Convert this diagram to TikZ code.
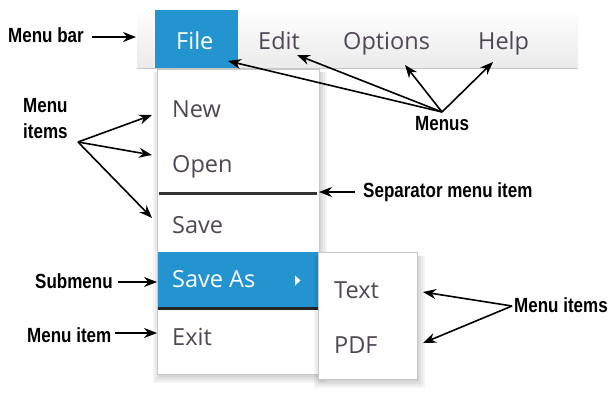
\documentclass[tikz,border=0pt]{standalone}
\usepackage{fontspec}
\newfontfamily\uifont{Open Sans}
\newfontfamily\labfont[FakeStretch=0.83]{Liberation Sans}
\usetikzlibrary{arrows.meta}
\definecolor{mblue}{RGB}{35,148,208}
\definecolor{mtext}{RGB}{80,70,86}
\definecolor{mborder}{RGB}{200,200,200}
\begin{document}
\begin{tikzpicture}[x=1pt,y=-1pt,
  ui/.style={font=\uifont\fontsize{23.5}{28}\selectfont, text=mtext, inner sep=0pt, anchor=base west},
  lab/.style={font=\labfont\bfseries\fontsize{20.5}{26}\selectfont, inner sep=0pt, anchor=base west, align=left},
  arr/.style={-{Stealth[length=13pt,width=10pt]}, line width=1.6pt},
  shad/.style={fill=black, opacity=0.045, draw=none},
]
\useasboundingbox (0,0) rectangle (609,392);
% menu bar
\shade[top color=white, bottom color=gray!16] (137,8) rectangle (578,68);
\draw[gray!45, line width=1pt] (137,68.5) -- (578,68.5);
\fill[mblue] (155,10) rectangle (238,68);
% dropdown shadow
\foreach \d in {1,3,5,7}{
  \fill[shad] (157-\d+3,72) rectangle (319+\d+1,374+\d+2);
}
\draw[mborder, fill=white] (157,69) rectangle (319,374);
\draw[line width=3pt, black!80] (159,193) -- (317,193);
\fill[mblue] (158,252) rectangle (318,307);
\draw[line width=3pt, black!85] (158,308) -- (318,308);
\fill[white] (295,275.5) -- (300.5,280.5) -- (295,285.5) -- cycle;
% submenu
\foreach \d in {1,3,5,7}{
  \fill[shad] (318-\d+3,256) rectangle (417+\d+1,379+\d+2);
}
\draw[mborder, fill=white] (318,252) rectangle (417,379);
% menu texts
\node[ui, text=white] (file) at (176,49) {File};
\node[ui] (edit) at (258,49) {Edit};
\node[ui] (options) at (343,49) {Options};
\node[ui] (help) at (478,49) {Help};
\node[ui] (new) at (172,117) {New};
\node[ui] (open) at (172,172) {Open};
\node[ui] (save) at (172,233) {Save};
\node[ui, text=white] (saveas) at (172,287) {Save As};
\node[ui] (exit) at (172,345) {Exit};
\node[ui] (text) at (334,298) {Text};
\node[ui] (pdf) at (334,353) {PDF};
% labels
\node[lab] (lmenubar) at (8,42) {Menu bar};
\node[lab] (lmenus) at (415,130) {Menus};
\node[lab] (litems) at (23,138) {Menu\\items};
\node[lab] (lsep) at (363,197) {Separator menu item};
\node[lab] (lsub) at (35,288) {Submenu};
\node[lab] (litem) at (27,342) {Menu item};
\node[lab] (ritems) at (514,312) {Menu items};
% arrow points
\coordinate (mbS) at (92,37);
\coordinate (mbT) at (136,37);
\coordinate (mnS) at (442,112);
\coordinate (tFile) at (228,61);
\coordinate (tEdit) at (297,55);
\coordinate (tOpt) at (405,65);
\coordinate (tHelp) at (493,62);
\coordinate (miS) at (78,142);
\coordinate (tNew) at (152,115);
\coordinate (tOpen) at (152,155);
\coordinate (tSave) at (152,218);
\coordinate (spS) at (355,192);
\coordinate (tSep) at (319,192);
\coordinate (sbS) at (118,282);
\coordinate (tSub) at (157,282);
\coordinate (itS) at (115,333);
\coordinate (tItem) at (157,333);
\coordinate (riS) at (512,306);
\coordinate (tText) at (423,292);
\coordinate (tPdf) at (423,343);
\draw[arr] (mbS) -- (mbT);
\draw[arr] (mnS) -- (tFile);
\draw[arr] (mnS) -- (tEdit);
\draw[arr] (mnS) -- (tOpt);
\draw[arr] (mnS) -- (tHelp);
\draw[arr] (miS) -- (tNew);
\draw[arr] (miS) -- (tOpen);
\draw[arr] (miS) -- (tSave);
\draw[arr] (spS) -- (tSep);
\draw[arr] (sbS) -- (tSub);
\draw[arr] (itS) -- (tItem);
\draw[arr] (riS) -- (tText);
\draw[arr] (riS) -- (tPdf);
\end{tikzpicture}
\end{document}
